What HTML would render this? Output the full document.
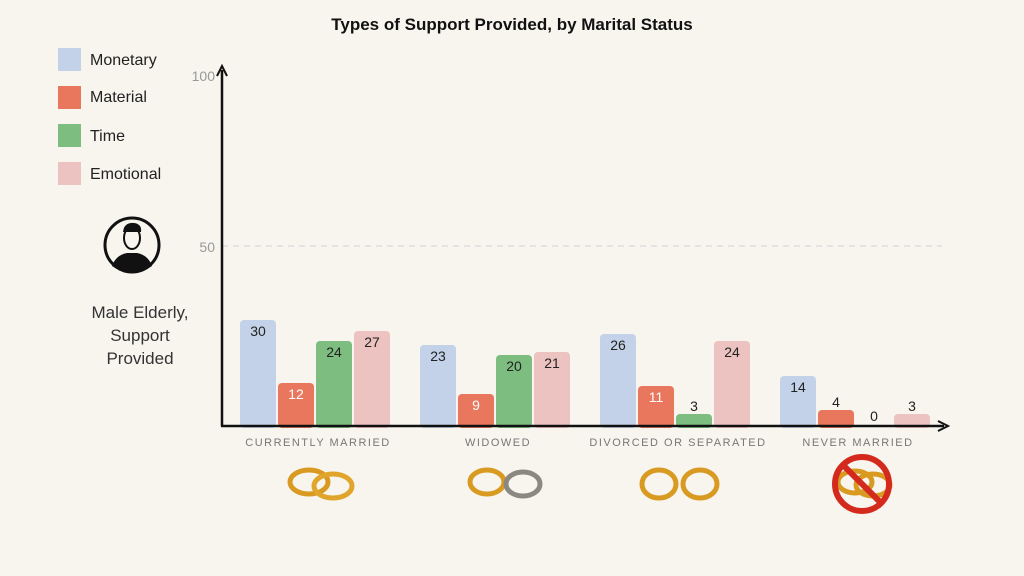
<!DOCTYPE html><html><head><style>body{margin:0;background:#f7f5ee;}svg{display:block}text{font-family:"Liberation Sans",sans-serif}</style></head><body>
<svg width="1024" height="576" viewBox="0 0 1024 576">
<rect width="1024" height="576" fill="#f7f5ee"/>
<text x="512" y="30" text-anchor="middle" font-size="17" font-weight="bold" fill="#111">Types of Support Provided, by Marital Status</text>
<g font-size="16" fill="#222">
<rect x="58" y="48" width="23" height="23" fill="#c3d2e8"/><text x="90" y="65">Monetary</text>
<rect x="58" y="86" width="23" height="23" fill="#e8775e"/><text x="90" y="102">Material</text>
<rect x="58" y="124" width="23" height="23" fill="#7dbd80"/><text x="90" y="141">Time</text>
<rect x="58" y="162" width="23" height="23" fill="#ecc3c0"/><text x="90" y="179">Emotional</text>
</g>
<circle cx="132" cy="245" r="27" fill="none" stroke="#111" stroke-width="3"/>
<path d="M112 266 Q116 255 127 253 L137 253 Q148 255 152 266 Q132 280 112 266Z" fill="#111"/>
<ellipse cx="132" cy="238" rx="8" ry="11" fill="none" stroke="#111" stroke-width="2"/>
<path d="M123 232 Q124 222 134 223 Q142 224 141 232Z" fill="#111"/>
<g font-size="17" fill="#333" text-anchor="middle"><text x="140" y="318">Male Elderly,</text><text x="140" y="341">Support</text><text x="140" y="364">Provided</text></g>
<line x1="222" y1="246" x2="942" y2="246" stroke="#ddd" stroke-width="1.5" stroke-dasharray="6,5"/>
<text x="215" y="81" text-anchor="end" font-size="14" fill="#999">100</text>
<text x="215" y="252" text-anchor="end" font-size="14" fill="#999">50</text>
<g id="bars" font-size="14" text-anchor="middle">
<!-- g1 -->
<rect x="240" y="320" width="36" height="108" rx="4" fill="#c3d2e8"/><text x="258" y="336" fill="#222">30</text>
<rect x="278" y="383" width="36" height="45" rx="4" fill="#e8775e"/><text x="296" y="399" fill="#fff">12</text>
<rect x="316" y="341" width="36" height="87" rx="4" fill="#7dbd80"/><text x="334" y="357" fill="#222">24</text>
<rect x="354" y="331" width="36" height="97" rx="4" fill="#ecc3c0"/><text x="372" y="347" fill="#222">27</text>
<!-- g2 -->
<rect x="420" y="345" width="36" height="83" rx="4" fill="#c3d2e8"/><text x="438" y="361" fill="#222">23</text>
<rect x="458" y="394" width="36" height="34" rx="4" fill="#e8775e"/><text x="476" y="410" fill="#fff">9</text>
<rect x="496" y="355" width="36" height="73" rx="4" fill="#7dbd80"/><text x="514" y="371" fill="#222">20</text>
<rect x="534" y="352" width="36" height="76" rx="4" fill="#ecc3c0"/><text x="552" y="368" fill="#222">21</text>
<!-- g3 -->
<rect x="600" y="334" width="36" height="94" rx="4" fill="#c3d2e8"/><text x="618" y="350" fill="#222">26</text>
<rect x="638" y="386" width="36" height="42" rx="4" fill="#e8775e"/><text x="656" y="402" fill="#fff">11</text>
<rect x="676" y="414" width="36" height="14" rx="4" fill="#7dbd80"/><text x="694" y="411" fill="#222">3</text>
<rect x="714" y="341" width="36" height="87" rx="4" fill="#ecc3c0"/><text x="732" y="357" fill="#222">24</text>
<!-- g4 -->
<rect x="780" y="376" width="36" height="52" rx="4" fill="#c3d2e8"/><text x="798" y="392" fill="#222">14</text>
<rect x="818" y="410" width="36" height="18" rx="4" fill="#e8775e"/><text x="836" y="407" fill="#222">4</text>
<text x="874" y="421" fill="#222">0</text>
<rect x="894" y="414" width="36" height="14" rx="4" fill="#ecc3c0"/><text x="912" y="411" fill="#222">3</text>
</g>
<line x1="222" y1="426" x2="222" y2="70" stroke="#111" stroke-width="2.5"/>
<path d="M217 76 L222 66 L227 76" fill="none" stroke="#111" stroke-width="2"/>
<line x1="221" y1="426" x2="944" y2="426" stroke="#111" stroke-width="2.5"/>
<path d="M938 421 L948 426 L938 431" fill="none" stroke="#111" stroke-width="2"/>
<g font-size="11" fill="#777" text-anchor="middle" letter-spacing="1.5">
<text x="318" y="446">CURRENTLY MARRIED</text><text x="498" y="446">WIDOWED</text><text x="678" y="446">DIVORCED OR SEPARATED</text><text x="858" y="446">NEVER MARRIED</text></g>
<g fill="none" stroke-width="5">
<ellipse cx="309" cy="482" rx="19" ry="12" stroke="#d99a22"/><ellipse cx="333" cy="486" rx="19" ry="12" stroke="#e0a52a"/>
<ellipse cx="487" cy="482" rx="17" ry="12" stroke="#d99a22"/><ellipse cx="523" cy="484" rx="17" ry="12" stroke="#8a8880"/>
<ellipse cx="659" cy="484" rx="17" ry="14" stroke="#d99a22"/><ellipse cx="700" cy="484" rx="17" ry="14" stroke="#d99a22"/>
<ellipse cx="855" cy="482" rx="17" ry="11" stroke="#d99a22"/><ellipse cx="873" cy="485" rx="17" ry="11" stroke="#d99a22"/>
<circle cx="862" cy="484" r="27" stroke="#d42a1e" stroke-width="6"/><line x1="843" y1="465" x2="881" y2="503" stroke="#d42a1e" stroke-width="6"/>
</g>
</svg></body></html>
